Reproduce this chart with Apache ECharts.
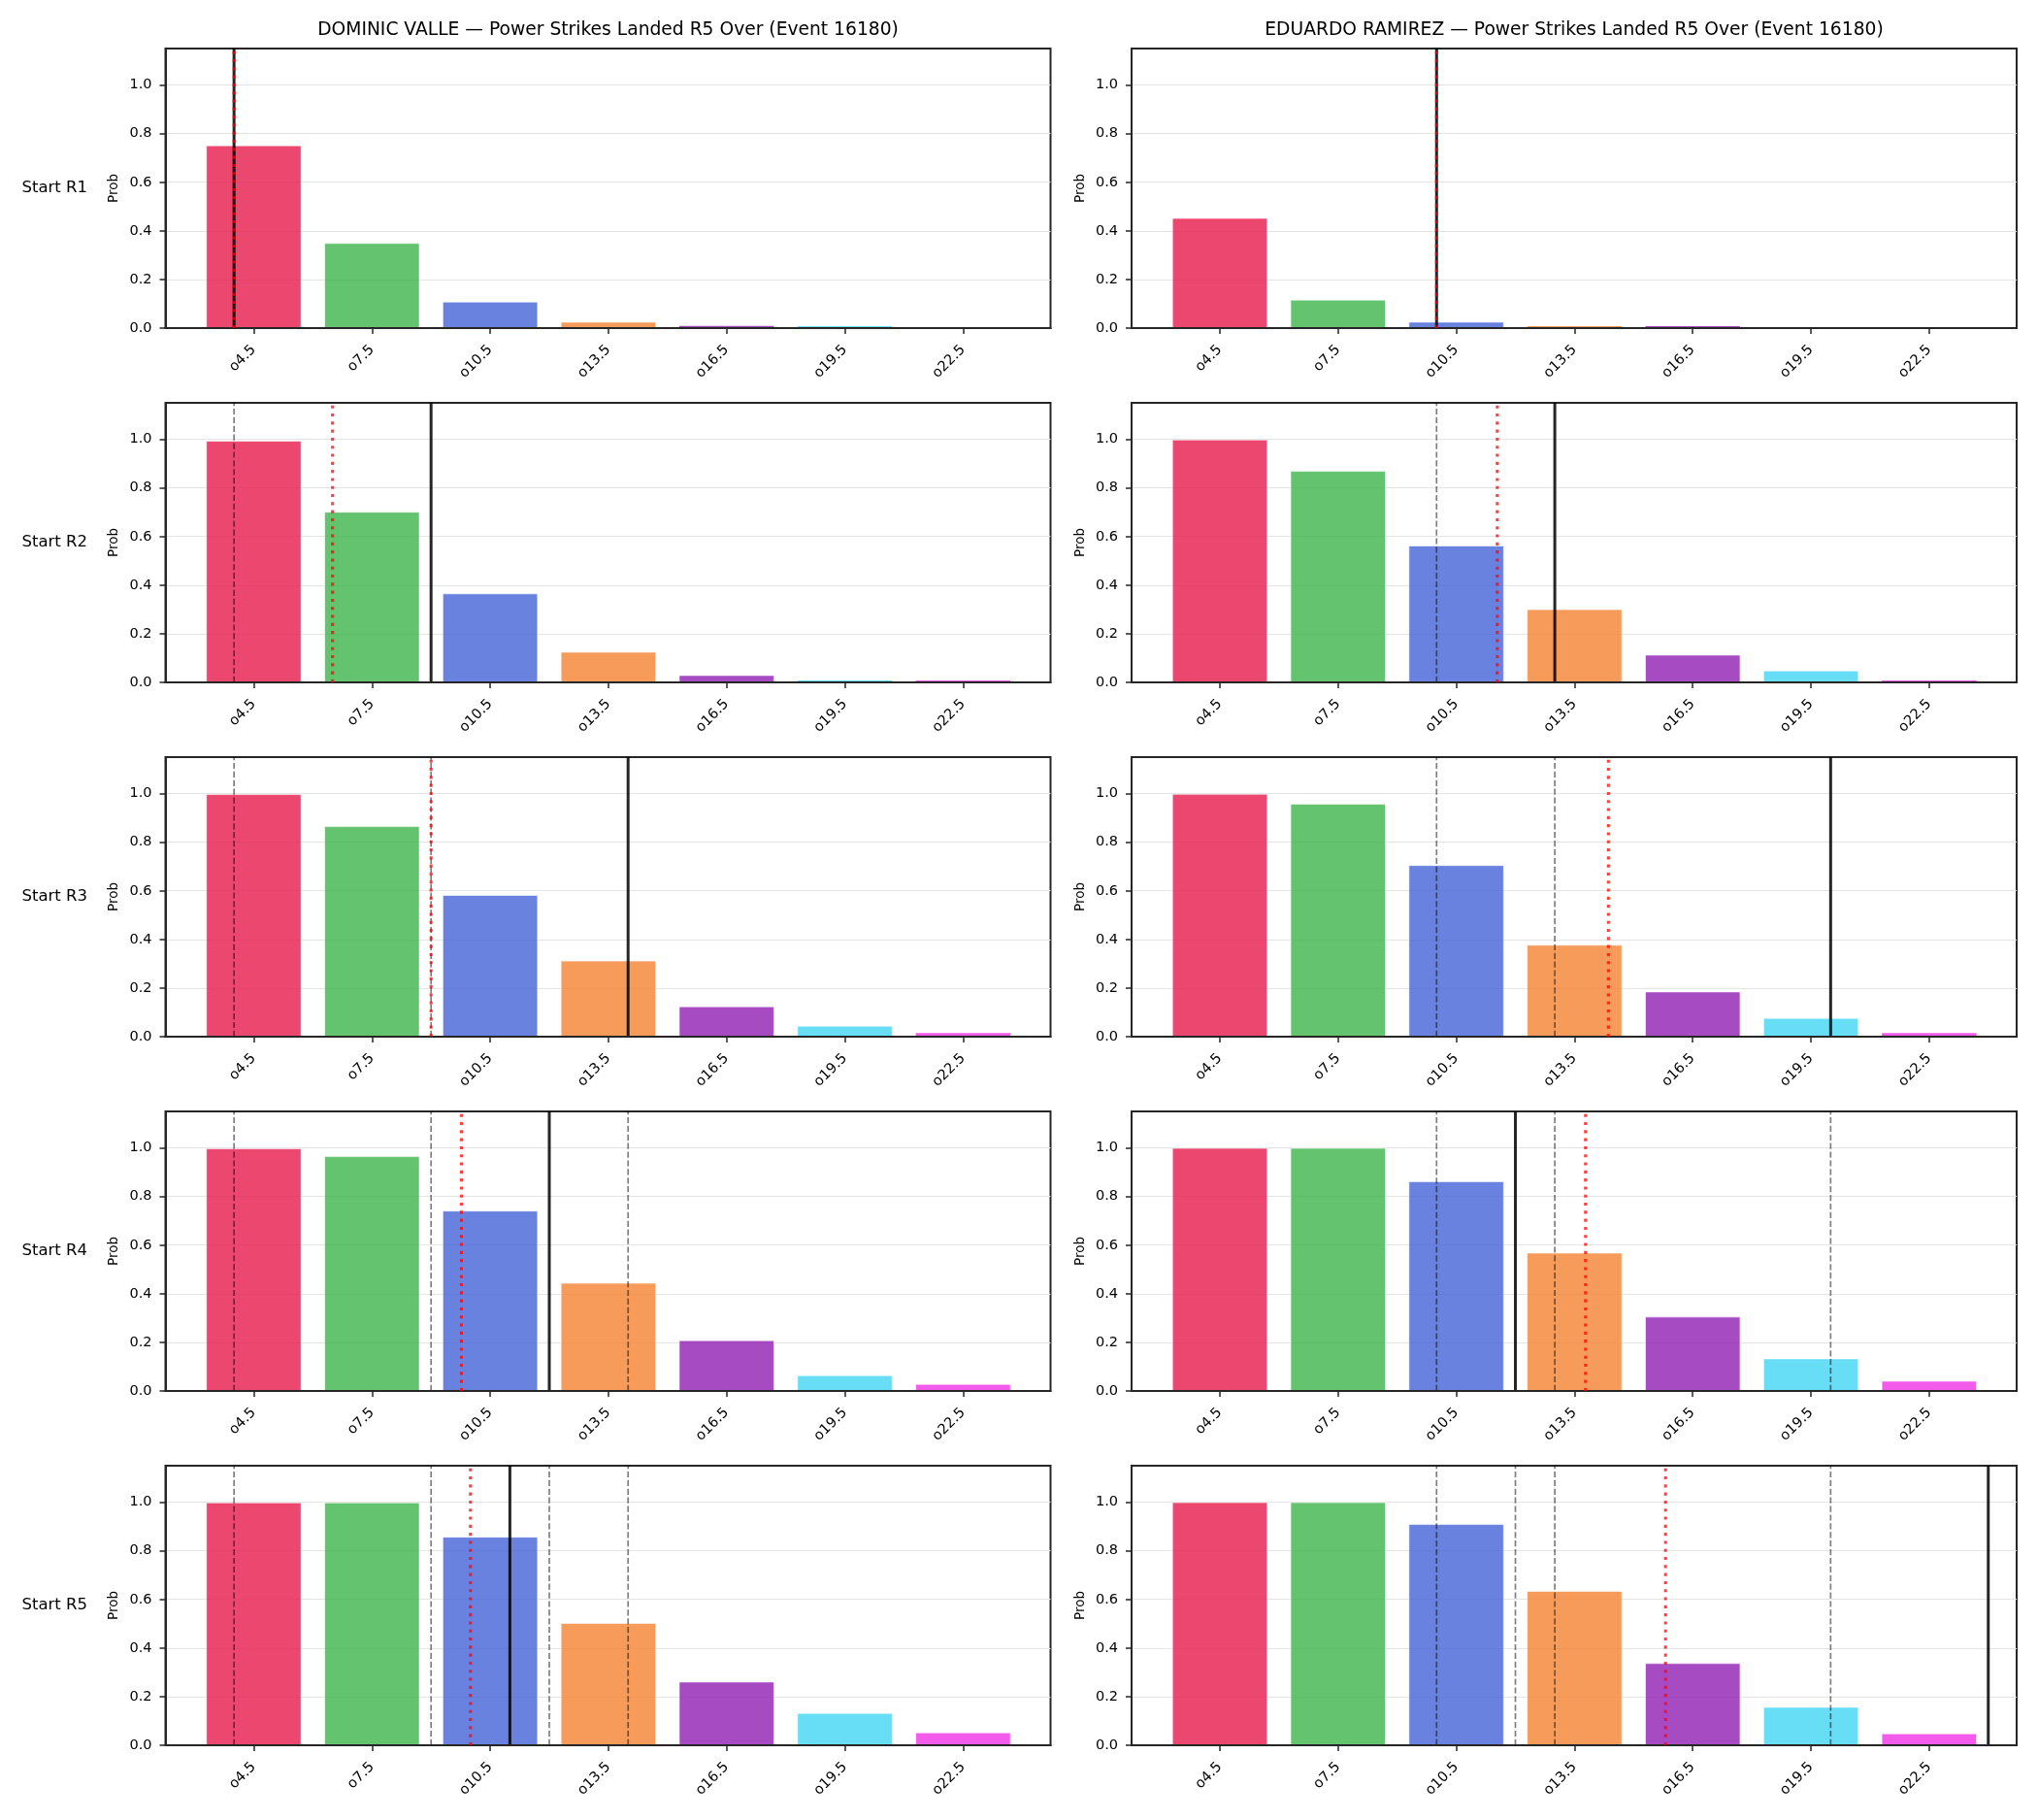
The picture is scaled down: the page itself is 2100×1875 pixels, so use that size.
<!DOCTYPE html>
<html>
<head>
<meta charset="utf-8">
<script src="https://cdn.jsdelivr.net/npm/echarts@6/dist/echarts.min.js"></script>
<style>
html,body{margin:0;padding:0;background:#fff;}
#chart{width:2100px;height:1875px;}
</style>
</head>
<body>
<div id="chart"></div>
<script>
// ---------------- DATA ----------------
const fighters = ['DOMINIC VALLE', 'EDUARDO RAMIREZ'];
const titleSuffix = ' — Power Strikes Landed R5 Over (Event 16180)';
const rowLabels = ['Start R1', 'Start R2', 'Start R3', 'Start R4', 'Start R5'];
const thresholdLabels = ['o4.5', 'o7.5', 'o10.5', 'o13.5', 'o16.5', 'o19.5', 'o22.5'];
const thresholdValues = [4.5, 7.5, 10.5, 13.5, 16.5, 19.5, 22.5];
const yTickValues = [0, 0.2, 0.4, 0.6, 0.8, 1.0];

// P(over threshold) per starting round (rows) for each threshold
const valleProbs = [
  [0.750, 0.348, 0.107, 0.024, 0.009, 0.008, 0.002],
  [0.992, 0.700, 0.364, 0.124, 0.028, 0.008, 0.008],
  [0.996, 0.864, 0.581, 0.311, 0.123, 0.043, 0.015],
  [0.996, 0.964, 0.740, 0.443, 0.207, 0.063, 0.027],
  [0.997, 0.997, 0.856, 0.501, 0.260, 0.131, 0.051]
];
const ramirezProbs = [
  [0.451, 0.115, 0.024, 0.008, 0.008, 0.002, 0.001],
  [0.997, 0.868, 0.561, 0.299, 0.112, 0.047, 0.008],
  [0.997, 0.956, 0.704, 0.376, 0.184, 0.075, 0.015],
  [0.998, 0.998, 0.861, 0.567, 0.304, 0.132, 0.040],
  [0.998, 0.998, 0.908, 0.633, 0.336, 0.156, 0.047]
];
// solid black marker per row (previous rows' markers are drawn dashed grey)
const valleMarker = [4, 9, 14, 12, 11];
const ramirezMarker = [10, 13, 20, 12, 24];
// dotted red marker per row
const valleProjection = [4, 6.5, 9.0, 9.77, 10.0];
const ramirezProjection = [10, 11.54, 14.36, 13.78, 15.81];

const barColors = ['#e6194b', '#3cb44b', '#4363d8', '#f58231', '#911eb4', '#42d4f4', '#f032e6'];

// ---------------- LAYOUT ----------------
const FONT = 'DejaVu Sans';
const GRID_LEFT = [170.5, 1166];
const GRID_TOP = [50, 415, 780, 1145, 1510];
const GRID_W = 912;
const GRID_H = 288;
const XMIN = 2.26, XMAX = 24.72, YMAX = 1.15, BAR_W = 2.4;

const probsByFighter = [valleProbs, ramirezProbs];
const markerByFighter = [valleMarker, ramirezMarker];
const projByFighter = [valleProjection, ramirezProjection];

function rgba(hex, a) {
  const n = parseInt(hex.slice(1), 16);
  return 'rgba(' + ((n >> 16) & 255) + ',' + ((n >> 8) & 255) + ',' + (n & 255) + ',' + a + ')';
}
function labelFor(v) {
  const i = thresholdValues.findIndex(t => Math.abs(t - v) < 1e-6);
  return i >= 0 ? thresholdLabels[i] : '';
}

const grids = [], xAxes = [], yAxes = [], series = [], graphics = [];

function vline(idx, x, lineStyle, z) {
  series.push({
    type: 'line', xAxisIndex: idx, yAxisIndex: idx,
    data: [[x, 0], [x, YMAX]], symbol: 'none', z: z, silent: true,
    lineStyle: lineStyle, animation: false
  });
}

for (let c = 0; c < 2; c++) {
  for (let r = 0; r < 5; r++) {
    const idx = grids.length;
    grids.push({
      left: GRID_LEFT[c], top: GRID_TOP[r], width: GRID_W, height: GRID_H,
      show: true, borderColor: '#262626', borderWidth: 2, backgroundColor: 'transparent'
    });
    xAxes.push({
      gridIndex: idx, type: 'value', min: XMIN, max: XMAX, z: 5,
      axisLine: { show: true, onZero: false, lineStyle: { color: '#262626', width: 2 } },
      axisTick: { show: true, customValues: thresholdValues, length: 6, lineStyle: { color: '#262626', width: 1.5 } },
      axisLabel: {
        show: true, customValues: thresholdValues, formatter: labelFor, rotate: 45, margin: 20,
        fontFamily: FONT, fontSize: 14.5, color: '#000'
      },
      splitLine: { show: false }
    });
    yAxes.push({
      gridIndex: idx, type: 'value', min: 0, max: YMAX, interval: 0.2,
      name: 'Prob', nameLocation: 'middle', nameGap: 46, nameRotate: 90,
      nameTextStyle: { fontFamily: FONT, fontSize: 13.5, color: '#000' },
      axisLine: { show: true, lineStyle: { color: '#262626', width: 2 } },
      axisTick: { show: true, customValues: yTickValues, length: 6, lineStyle: { color: '#262626', width: 1.5 } },
      axisLabel: {
        customValues: yTickValues, formatter: v => v.toFixed(1), margin: 14,
        fontFamily: FONT, fontSize: 14.5, color: '#000'
      },
      splitLine: { show: true, lineStyle: { color: '#e4e4e4', width: 1.2 } }
    });

    const probs = probsByFighter[c][r];
    series.push({
      type: 'custom', xAxisIndex: idx, yAxisIndex: idx, z: 2, silent: true, animation: false,
      encode: { x: 0, y: 1 },
      data: thresholdValues.map((x, i) => [x, probs[i], i]),
      renderItem: function (params, api) {
        const x = api.value(0), y = api.value(1), i = api.value(2);
        const p0 = api.coord([x - BAR_W / 2, y]);
        const p1 = api.coord([x + BAR_W / 2, 0]);
        const h = p1[1] - p0[1];
        return {
          type: 'rect',
          shape: { x: p0[0], y: p0[1], width: p1[0] - p0[0], height: h },
          style: {
            fill: rgba(barColors[i], 0.8),
            stroke: h > 4 ? 'rgba(255,255,255,0.7)' : null,
            lineWidth: 0.8
          }
        };
      }
    });

    // earlier rows' markers: grey dashed
    markerByFighter[c].slice(0, r).forEach(x => {
      vline(idx, x, { color: 'rgba(0,0,0,0.5)', width: 1.7, type: [6.2, 2.7] }, 3);
    });
    // current marker: solid black
    vline(idx, markerByFighter[c][r], { color: 'rgba(0,0,0,0.85)', width: 3, type: 'solid' }, 4);
    // projection: red dotted
    vline(idx, projByFighter[c][r], { color: 'rgba(255,0,0,0.75)', width: 3.1, type: [3.1, 5.2] }, 5);
  }
  graphics.push({
    type: 'text', x: GRID_LEFT[c] + GRID_W / 2, y: 31, z: 10,
    style: {
      text: fighters[c] + titleSuffix, font: '18.7px "DejaVu Sans"', fill: '#000',
      textAlign: 'center', textVerticalAlign: 'middle', align: 'center', verticalAlign: 'middle'
    }
  });
}
rowLabels.forEach((t, r) => {
  graphics.push({
    type: 'text', x: 90, y: GRID_TOP[r] + GRID_H / 2, z: 10,
    style: {
      text: t, font: '16.5px "DejaVu Sans"', fill: '#000',
      textAlign: 'right', textVerticalAlign: 'middle', align: 'right', verticalAlign: 'middle'
    }
  });
});

const chart = echarts.init(document.getElementById('chart'), null, { renderer: 'canvas', width: 2100, height: 1875 });
chart.setOption({
  backgroundColor: '#ffffff',
  animation: false,
  textStyle: { fontFamily: FONT },
  grid: grids,
  xAxis: xAxes,
  yAxis: yAxes,
  series: series,
  graphic: graphics
});
</script>
</body>
</html>
